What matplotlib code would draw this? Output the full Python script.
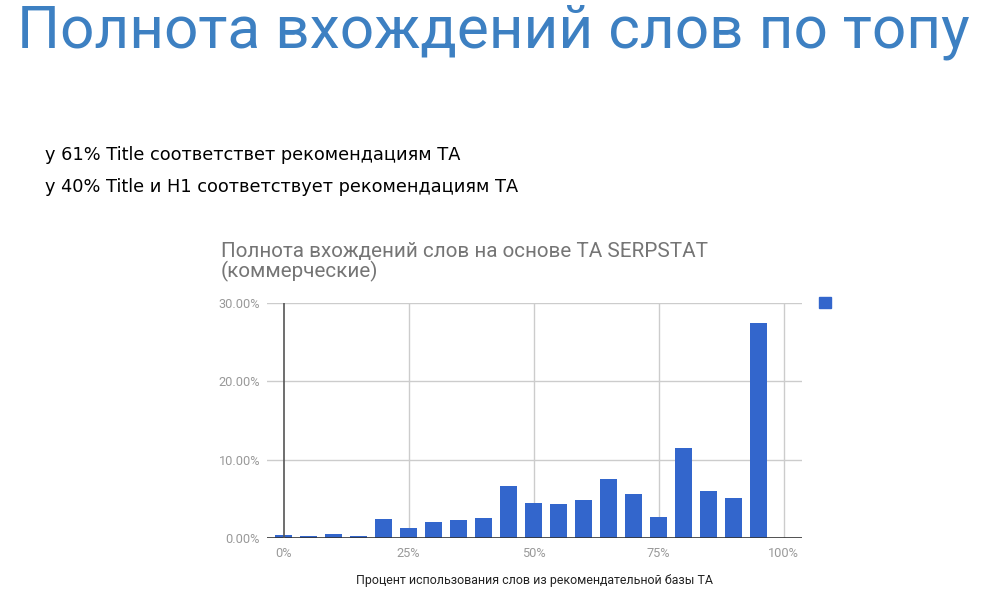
import matplotlib
matplotlib.use("Agg")
import matplotlib.pyplot as plt
from matplotlib.patches import Patch
from matplotlib.ticker import FuncFormatter

# Data (share of pages per usage bucket)
usage_pct = [0, 5, 10, 15, 20, 25, 30, 35, 40, 45,
             50, 55, 60, 65, 70, 75, 80, 85, 90, 95]
share_pct = [0.42, 0.30, 0.55, 0.30, 2.42, 1.36, 2.12, 2.29, 2.55, 6.72,
             4.47, 4.35, 4.85, 7.60, 5.70, 2.74, 11.56, 6.08, 5.15, 27.40]

x_ticks = [0, 25, 50, 75, 100]
y_ticks = [0, 10, 20, 30]

page_title = "Полнота вхождений слов по топу"
notes = ["у 61% Title соответствет рекомендациям ТА",
         "у 40% Title и H1 соответствует рекомендациям ТА"]
chart_title = "Полнота вхождений слов на основе ТА SERPSTAT\n(коммерческие)"
x_label = "Процент использования слов из рекомендательной базы ТА"

W, H = 1001, 596
fig = plt.figure(figsize=(W / 100, H / 100), dpi=100)

# Slide title and notes
fig.text(17 / W, 1 - 48 / H, page_title, fontsize=43.5, color="#3d80c2",
         family="Roboto", va="baseline", ha="left")
fig.text(45 / W, 1 - 160 / H, notes[0], fontsize=12.8, color="black",
         family="DejaVu Sans", va="baseline")
fig.text(45 / W, 1 - 192 / H, notes[1], fontsize=12.8, color="black",
         family="DejaVu Sans", va="baseline")

# Chart area
ax = fig.add_axes([267 / W, 1 - 538.3 / H, 535 / W, 235.6 / H])
ax.bar(usage_pct, share_pct, width=3.35, color="#3366cc", zorder=3)
ax.set_xlim(-3.3, 103.7)
ax.set_ylim(0, 30)

ax.set_xticks(x_ticks)
ax.set_yticks(y_ticks)
ax.xaxis.set_major_formatter(FuncFormatter(lambda v, p: f"{v:.0f}%"))
ax.yaxis.set_major_formatter(FuncFormatter(lambda v, p: f"{v:.2f}%"))
ax.tick_params(length=0, labelsize=9.2, labelcolor="#999999")
ax.tick_params(axis="x", pad=6)
ax.tick_params(axis="y", pad=5)
for lab in ax.get_xticklabels() + ax.get_yticklabels():
    lab.set_family("Roboto")

for s in ax.spines.values():
    s.set_visible(False)

# gridlines
for yv in y_ticks[1:]:
    ax.axhline(yv, color="#cccccc", lw=1, zorder=1)
for xv in x_ticks[1:]:
    ax.plot([xv, xv], [0, 30], color="#cccccc", lw=1, zorder=1)
ax.axhline(0, color="#333333", lw=1.2, zorder=4)
ax.plot([0, 0], [0, 30], color="#555555", lw=1.2, zorder=4)

ax.set_xlabel(x_label, fontsize=8.9, color="#222222", family="Roboto", labelpad=10)

fig.text(221 / W, 1 - 262 / H, chart_title, fontsize=14.9, color="#757575",
         family="Roboto", va="center", ha="left", linespacing=1.0)

leg = fig.legend(handles=[Patch(color="#3366cc")], labels=[""],
                 loc="center left", bbox_to_anchor=(812 / W, 1 - 303 / H),
                 frameon=False, handlelength=0.85, handleheight=0.85,
                 handletextpad=0, borderpad=0)

fig.savefig("out.png", dpi=100)
